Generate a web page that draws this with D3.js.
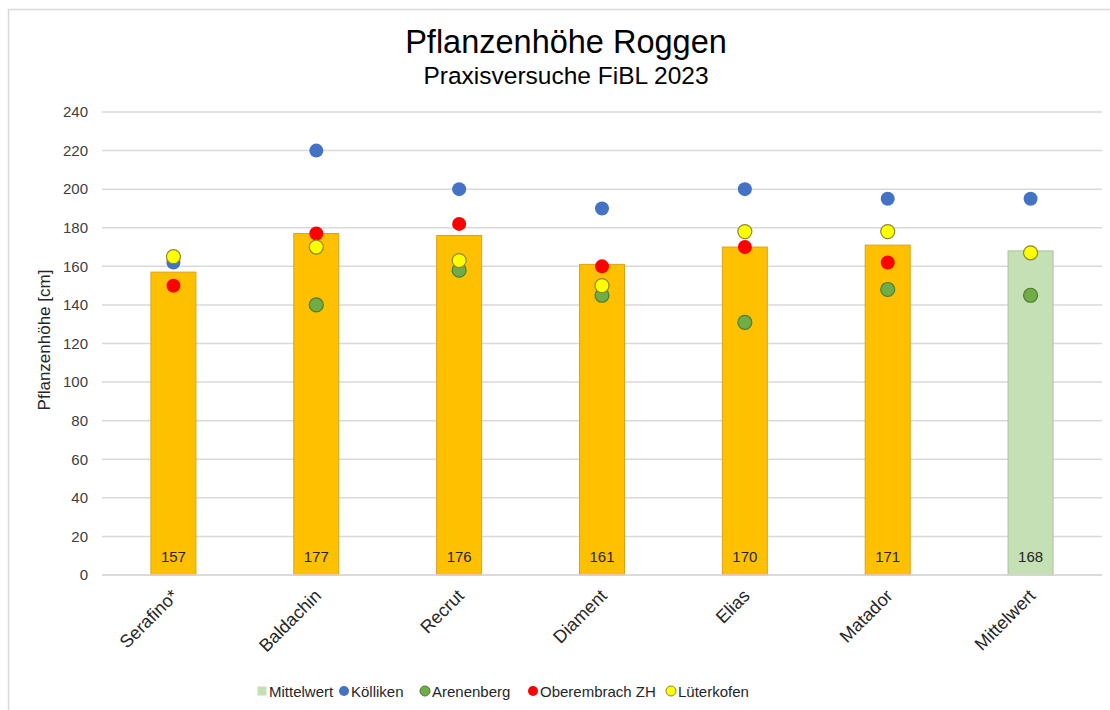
<!DOCTYPE html>
<html>
<head>
<meta charset="utf-8">
<script src="https://cdn.jsdelivr.net/npm/d3@7"></script>
<style>
  body { margin: 0; background: #fff; }
  text { font-family: "Liberation Sans", Arial, sans-serif; }
</style>
</head>
<body>
<div id="chart"></div>
<script>
// categories and values
const sorten = ["Serafino*", "Baldachin", "Recrut", "Diament", "Elias", "Matador", "Mittelwert"];
const mittel = [157, 177, 176, 161, 170, 171, 168];
const koelliken = [162, 220, 200, 190, 200, 195, 195];
const arenenberg = [null, 140, 158, 145, 131, 148, 145];
const oberembrach = [150, 177, 182, 160, 170, 162, 167];
const lueterkofen = [165, 170, 163, 150, 178, 178, 167];
const yTicks = [0, 20, 40, 60, 80, 100, 120, 140, 160, 180, 200, 220, 240];

const standorte = [
  {name: "Kölliken", values: koelliken, fill: "#4472C4", stroke: "none"},
  {name: "Arenenberg", values: arenenberg, fill: "#70AD47", stroke: "#4e7d31"},
  {name: "Oberembrach ZH", values: oberembrach, fill: "#FF0000", stroke: "none"},
  {name: "Lüterkofen", values: lueterkofen, fill: "#FFFF00", stroke: "#8c8a2e"}
];

const width = 1110, height = 710;
const svg = d3.select("#chart").append("svg")
    .attr("width", width)
    .attr("height", height);

// chart frame
svg.append("rect")
    .attr("x", 8.5).attr("y", 9.5)
    .attr("width", 1120).attr("height", 720)
    .attr("fill", "none")
    .attr("stroke", "#d9d9d9")
    .attr("stroke-width", 1.5);

const scaleX = d3.scaleBand()
    .domain(sorten)
    .range([102, 1102])
    .paddingInner(0.685)
    .paddingOuter(0.3425);

const scaleY = d3.scaleLinear()
    .domain([0, 240])
    .range([575, 112]);

// gridlines
svg.append("g")
    .selectAll("line")
    .data(yTicks)
    .join("line")
      .attr("x1", 102).attr("x2", 1102)
      .attr("y1", d => scaleY(d)).attr("y2", d => scaleY(d))
      .attr("stroke", "#d9d9d9")
      .attr("stroke-width", 1.5);

// y axis
const yAxis = svg.append("g")
    .attr("transform", `translate(${92}, 0)`)
    .call(d3.axisLeft(scaleY).tickValues(yTicks).tickSize(0).tickPadding(4));
yAxis.select(".domain").remove();
yAxis.selectAll("text")
    .attr("font-size", 15)
    .attr("fill", "#404040")
    .attr("font-family", "Liberation Sans, Arial, sans-serif");

svg.append("text")
    .attr("transform", `translate(${50}, ${340}) rotate(-90)`)
    .attr("text-anchor", "middle")
    .attr("font-size", 17)
    .attr("fill", "#262626")
    .text("Pflanzenhöhe [cm]");

// bars
svg.append("g")
    .selectAll("rect")
    .data(sorten)
    .join("rect")
      .attr("x", d => scaleX(d))
      .attr("y", (d, i) => scaleY(mittel[i]))
      .attr("width", scaleX.bandwidth())
      .attr("height", (d, i) => scaleY(0) - scaleY(mittel[i]))
      .attr("fill", d => d === "Mittelwert" ? "#C5E0B4" : "#FFC000")
      .attr("stroke", d => d === "Mittelwert" ? "#a9c59a" : "#d9a320")
      .attr("stroke-width", 1);

// bar labels
svg.append("g")
    .selectAll("text")
    .data(sorten)
    .join("text")
      .attr("x", d => scaleX(d) + scaleX.bandwidth() / 2)
      .attr("y", 562)
      .attr("text-anchor", "middle")
      .attr("font-size", 15)
      .attr("fill", "#262626")
      .text((d, i) => mittel[i]);

// x axis line
svg.append("line")
    .attr("x1", 102).attr("x2", 1102)
    .attr("y1", scaleY(0)).attr("y2", scaleY(0))
    .attr("stroke", "#d9d9d9")
    .attr("stroke-width", 1.5);

// category labels
svg.append("g")
    .selectAll("text")
    .data(sorten)
    .join("text")
      .attr("transform", d => `translate(${scaleX(d) + scaleX.bandwidth() / 2 + 6}, ${597}) rotate(-45)`)
      .attr("text-anchor", "end")
      .attr("font-size", 18)
      .attr("fill", "#262626")
      .text(d => d);

// dots per site
standorte.forEach(s => {
  svg.append("g")
    .selectAll("circle")
    .data(sorten.map((d, i) => ({sorte: d, value: s.values[i]})).filter(d => d.value !== null))
    .join("circle")
      .attr("cx", d => scaleX(d.sorte) + scaleX.bandwidth() / 2)
      .attr("cy", d => scaleY(d.value))
      .attr("r", 7)
      .attr("fill", s.fill)
      .attr("stroke", s.stroke)
      .attr("stroke-width", 1.2);
});

// title
svg.append("text")
    .attr("x", 566).attr("y", 53)
    .attr("text-anchor", "middle")
    .attr("font-size", 32.5)
    .attr("fill", "#000")
    .text("Pflanzenhöhe Roggen");
svg.append("text")
    .attr("x", 566).attr("y", 84)
    .attr("text-anchor", "middle")
    .attr("font-size", 24.5)
    .attr("fill", "#000")
    .text("Praxisversuche FiBL 2023");

// legend
const legendItems = [{name: "Mittelwert", type: "rect", fill: "#C5E0B4", stroke: "#C5E0B4"}]
  .concat(standorte.map(s => ({name: s.name, type: "circle", fill: s.fill, stroke: s.stroke})));
const legendX = [262, 344, 425, 533, 671];
const legend = svg.append("g");
legendItems.forEach((it, i) => {
  const g = legend.append("g").attr("transform", `translate(${legendX[i]}, ${691})`);
  if (it.type === "rect") {
    g.append("rect").attr("x", -4.5).attr("y", -4.5).attr("width", 9).attr("height", 9).attr("fill", it.fill);
  } else {
    g.append("circle").attr("r", 5).attr("fill", it.fill).attr("stroke", it.stroke).attr("stroke-width", 1);
  }
  g.append("text")
      .attr("x", 7).attr("y", 5.5)
      .attr("font-size", 15)
      .attr("fill", "#262626")
      .text(it.name);
});
</script>
</body>
</html>
